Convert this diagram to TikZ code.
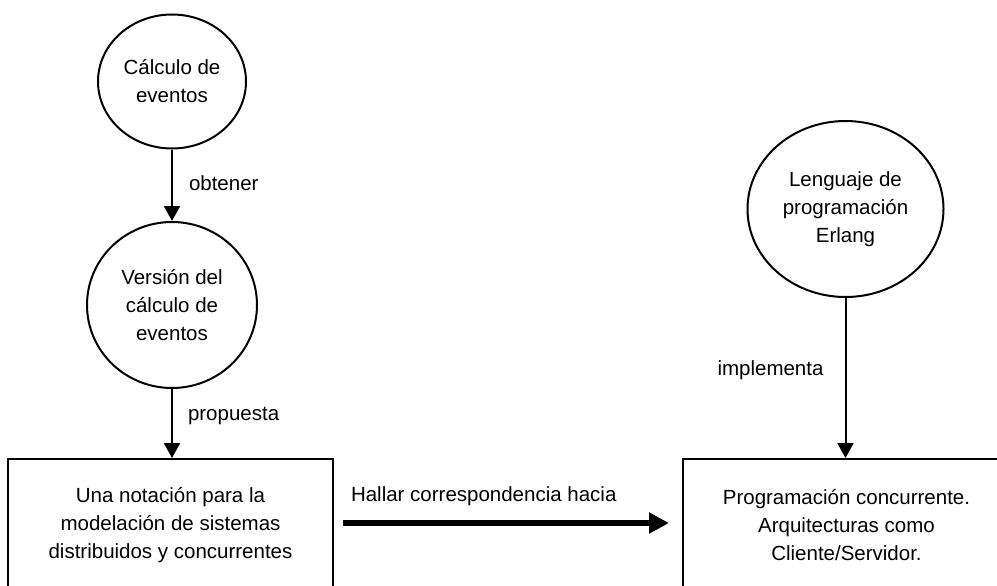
\documentclass[tikz,border=0pt]{standalone}
\usepackage{fontspec}
\setmainfont{Liberation Sans}
\usetikzlibrary{shapes.geometric,arrows.meta}
\begin{document}
\begin{tikzpicture}[x=1pt,y=-1pt,
  every node/.style={font=\fontsize{20.5}{28}\selectfont},
  bubble/.style={ellipse, draw, line width=2pt, inner sep=0pt, align=center},
  box/.style={rectangle, draw, line width=2pt, inner sep=0pt, align=center},
  link/.style={line width=2pt, -{Triangle[length=15pt,width=16pt]}},
  bigarrow/.style={line width=6pt, -{Triangle[length=20pt,width=20pt]}},
  tag/.style={inner sep=0pt}
]
\useasboundingbox (0,0) rectangle (997,586);
\clip (0,0) rectangle (997,586);

% concepts
\node[bubble, minimum width=148pt, minimum height=134pt] (calc) at (172,81.5)
  {Cálculo de\\eventos};
\node[bubble, minimum width=170pt, minimum height=166pt] (vers) at (172,305)
  {Versión del\\cálculo de\\eventos};
\node[bubble, minimum width=196pt, minimum height=176pt] (erl) at (845.5,209)
  {Lenguaje de\\programación\\Erlang};

% results (boxes run past the lower/right border)
\node[box, minimum width=325pt, minimum height=132pt] (nota) at (170.5,525)
  {Una notación para la\\modelación de sistemas\\distribuidos y concurrentes};
\node[box, minimum width=327pt, minimum height=132pt] (prog) at (846.5,525)
  {Programación concurrente.\\Arquitecturas como\\Cliente/Servidor.};

% relations
\draw[link] (calc) -- (vers)
  node[tag, pos=0.47, anchor=west, xshift=16pt] {obtener};
\draw[link] (vers.south) -- (vers.south |- nota.north)
  node[tag, pos=0.39, anchor=west, xshift=15pt] {propuesta};
\draw[link] (erl.south) -- (erl.south |- prog.north)
  node[tag, pos=0.45, anchor=east, xshift=-21pt] {implementa};
\draw[bigarrow] ([xshift=9pt,yshift=2pt]nota.east) -- ([xshift=-13pt,yshift=2pt]prog.west)
  node[tag, pos=0, anchor=west, xshift=5pt, yshift=27pt] {Hallar correspondencia hacia};
\end{tikzpicture}
\end{document}
